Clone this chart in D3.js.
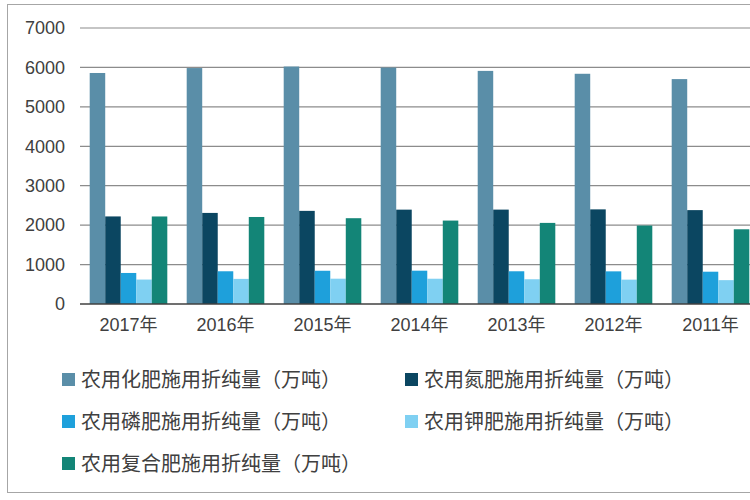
<!DOCTYPE html>
<html><head><meta charset="utf-8">
<script src="https://cdn.jsdelivr.net/npm/d3@7"></script>
<style>body{margin:0;background:#fff}text{font-family:"Liberation Sans","Noto Sans CJK SC",sans-serif}</style>
</head><body><svg id="c" width="750" height="500"></svg>
<script>
var years = ['2017年', '2016年', '2015年', '2014年', '2013年', '2012年', '2011年'];
var seriesNames = ['农用化肥施用折纯量（万吨）', '农用氮肥施用折纯量（万吨）', '农用磷肥施用折纯量（万吨）', '农用钾肥施用折纯量（万吨）', '农用复合肥施用折纯量（万吨）'];
var huafei = [5859, 5984, 6023, 5996, 5912, 5839, 5704];
var danfei = [2221, 2310, 2362, 2393, 2394, 2400, 2381];
var linfei = [787, 830, 843, 845, 830, 828, 819];
var jiafei = [620, 637, 642, 641, 628, 618, 605];
var fuhefei = [2220, 2207, 2176, 2116, 2057, 1990, 1895];
var yTicks = [0, 1000, 2000, 3000, 4000, 5000, 6000, 7000];
var colors = ['#5a8ea8', '#0b4661', '#1ea0db', '#7fd0f2', '#138577'];

var series = [huafei, danfei, linfei, jiafei, fuhefei];
var svg = d3.select('#c');

// outer frame
svg.append('rect').attr('x', 7.5).attr('y', 4.5).attr('width', 750).attr('height', 488)
  .attr('fill', 'none').attr('stroke', '#a6a6a6');

var x0 = d3.scaleBand().domain(years).range([80, 759]).paddingInner(0.2).paddingOuter(0.1);
var x1 = d3.scaleBand().domain(d3.range(5)).range([0, x0.bandwidth()]);
var y = d3.scaleLinear().domain([0, 7000]).range([304, 28]);

// gridlines
svg.append('g').selectAll('line').data(yTicks.slice(1)).join('line')
  .attr('x1', 80).attr('x2', 750).attr('y1', y).attr('y2', y)
  .attr('stroke', '#8c8c8c').attr('stroke-width', 1.2);

var yAxis = svg.append('g').attr('transform', 'translate(65,0)')
  .call(d3.axisLeft(y).tickValues(yTicks).tickSize(0).tickPadding(0).tickFormat(d3.format('d')));
yAxis.select('.domain').remove();
yAxis.selectAll('text').attr('font-size', 18).attr('fill', '#404040').attr('text-anchor', 'end');

// bars
var groups = svg.append('g').selectAll('g').data(years).join('g')
  .attr('transform', function (d) { return 'translate(' + x0(d) + ',0)'; });
groups.selectAll('rect').data(function (d, i) {
  return series.map(function (s, k) { return {k: k, v: s[i]}; });
}).join('rect')
  .attr('x', function (d) { return x1(d.k); })
  .attr('width', x1.bandwidth())
  .attr('y', function (d) { return y(d.v); })
  .attr('height', function (d) { return y(0) - y(d.v); })
  .attr('fill', function (d) { return colors[d.k]; });

// x axis
var xAxis = svg.append('g').attr('transform', 'translate(0,304)')
  .call(d3.axisBottom(x0).tickSize(0).tickPadding(14));
xAxis.select('.domain').attr('stroke', '#404040').attr('stroke-width', 1.5).attr('d', 'M80,0H750');
xAxis.selectAll('text').attr('font-size', 18).attr('fill', '#404040');

// legend
var legendPos = [[62, 380], [405, 380], [62, 422], [405, 422], [62, 464]];
var legend = svg.append('g').selectAll('g').data(seriesNames).join('g')
  .attr('transform', function (d, i) { return 'translate(' + legendPos[i][0] + ',' + legendPos[i][1] + ')'; });
legend.append('rect').attr('x', 0).attr('y', -7).attr('width', 13).attr('height', 13)
  .attr('fill', function (d, i) { return colors[i]; });
legend.append('text').attr('x', 19).attr('y', 0).attr('dy', '0.35em')
  .attr('font-size', 20).attr('fill', '#404040').text(function (d) { return d; });
</script></body></html>
